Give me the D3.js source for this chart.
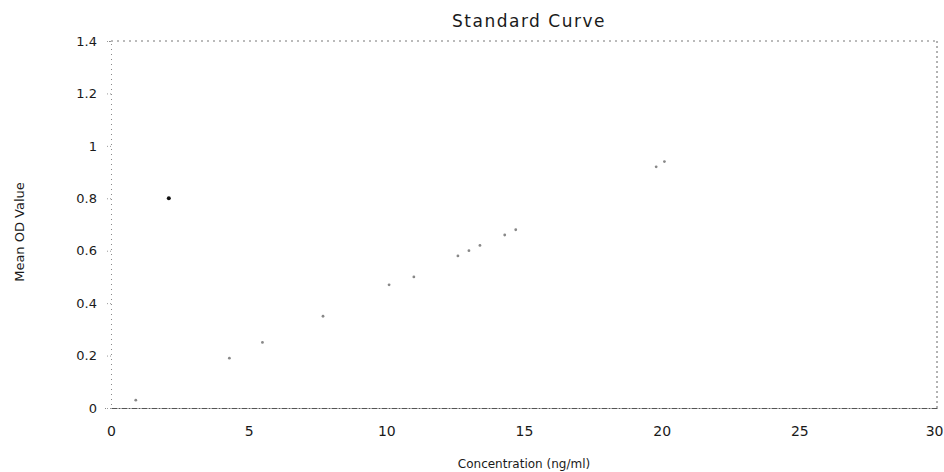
<!DOCTYPE html>
<html>
<head>
<meta charset="utf-8">
<script src="https://cdn.jsdelivr.net/npm/d3@7/dist/d3.min.js"></script>
<style>
  html, body { margin: 0; padding: 0; background: #ffffff; }
  svg { display: block; }
  text { font-family: "DejaVu Sans", sans-serif; fill: #1a1a1a; }
</style>
</head>
<body>
<svg id="chart" width="944" height="472"></svg>
<script>
// ---- data ----
const title = "Standard Curve";
const xLabel = "Concentration (ng/ml)";
const yLabel = "Mean OD Value";
const xTicks = [0, 5, 10, 15, 20, 25, 30];
const yTicks = [0, 0.2, 0.4, 0.6, 0.8, 1, 1.2, 1.4];
const xTickLabels = ["0", "5", "10", "15", "20", "25", "30"];
const yTickLabels = ["0", "0.2", "0.4", "0.6", "0.8", "1", "1.2", "1.4"];
// faint points along the fitted line
const conc = [0.9, 4.3, 5.5, 7.7, 10.1, 11.0, 12.6, 13.0, 13.4, 14.3, 14.7, 19.8, 20.1];
const od   = [0.03, 0.19, 0.25, 0.35, 0.47, 0.50, 0.58, 0.60, 0.62, 0.66, 0.68, 0.92, 0.94];
// single dark point
const outlierConc = [2.1];
const outlierOd = [0.80];

// ---- layout ----
const svg = d3.select("#chart");
const mLeft = 111, mRight = 937, mTop = 41, mBottom = 408;

const x = d3.scaleLinear().domain([0, 30]).range([mLeft, mRight]);
const y = d3.scaleLinear().domain([0, 1.4]).range([mBottom, mTop]);

// frame: top and right (faint, broken like the scan)
svg.append("line")
  .attr("x1", x(0)).attr("x2", x(30)).attr("y1", y(1.4)).attr("y2", y(1.4))
  .attr("stroke", "#777").attr("stroke-width", 1).attr("stroke-dasharray", "2,4");
svg.append("line")
  .attr("x1", x(30)).attr("x2", x(30)).attr("y1", y(1.4)).attr("y2", y(0))
  .attr("stroke", "#666").attr("stroke-width", 1).attr("stroke-dasharray", "2,3");

// axes
const xAxis = d3.axisBottom(x).tickValues(xTicks)
  .tickFormat((d, i) => xTickLabels[i]).tickSize(0).tickPadding(18);
const yAxis = d3.axisLeft(y).tickValues(yTicks)
  .tickFormat((d, i) => yTickLabels[i]).tickSize(6).tickPadding(8);

const gx = svg.append("g").attr("transform", `translate(0,${mBottom})`).call(xAxis);
gx.select(".domain").attr("stroke", "#555").attr("stroke-dasharray", "6,1,2,1");
gx.selectAll("text").attr("font-size", 14).attr("fill", "#1a1a1a")
  .attr("font-family", "DejaVu Sans, sans-serif");
// keep the last label inside the page
gx.selectAll(".tick text").filter(d => d === 30).attr("text-anchor", "end").attr("dx", 6);

const gy = svg.append("g").attr("transform", `translate(${mLeft},0)`).call(yAxis);
gy.select(".domain").attr("stroke", "#888").attr("stroke-dasharray", "1,4");
gy.selectAll(".tick line").attr("stroke", "#999").attr("stroke-dasharray", "1,2");
gy.selectAll("text").attr("font-size", 13).attr("fill", "#1a1a1a")
  .attr("font-family", "DejaVu Sans, sans-serif");

// points
svg.append("g").selectAll("circle")
  .data(conc.map((c, i) => ({ c, v: od[i] })))
  .join("circle")
  .attr("cx", d => x(d.c)).attr("cy", d => y(d.v))
  .attr("r", 1.4).attr("fill", "#888");

svg.append("g").selectAll("circle")
  .data(outlierConc.map((c, i) => ({ c, v: outlierOd[i] })))
  .join("circle")
  .attr("cx", d => x(d.c)).attr("cy", d => y(d.v))
  .attr("r", 2).attr("fill", "#111");

// title
svg.append("text")
  .attr("x", (mLeft + mRight) / 2 + 5).attr("y", 27)
  .attr("text-anchor", "middle").attr("font-size", 17)
  .attr("letter-spacing", 1.5)
  .text(title);

// x label
svg.append("text")
  .attr("x", (mLeft + mRight) / 2).attr("y", 468)
  .attr("text-anchor", "middle").attr("font-size", 12)
  .text(xLabel);

// y label
svg.append("text")
  .attr("transform", `translate(24,232) rotate(-90)`)
  .attr("text-anchor", "middle").attr("font-size", 13)
  .text(yLabel);
</script>
</body>
</html>
